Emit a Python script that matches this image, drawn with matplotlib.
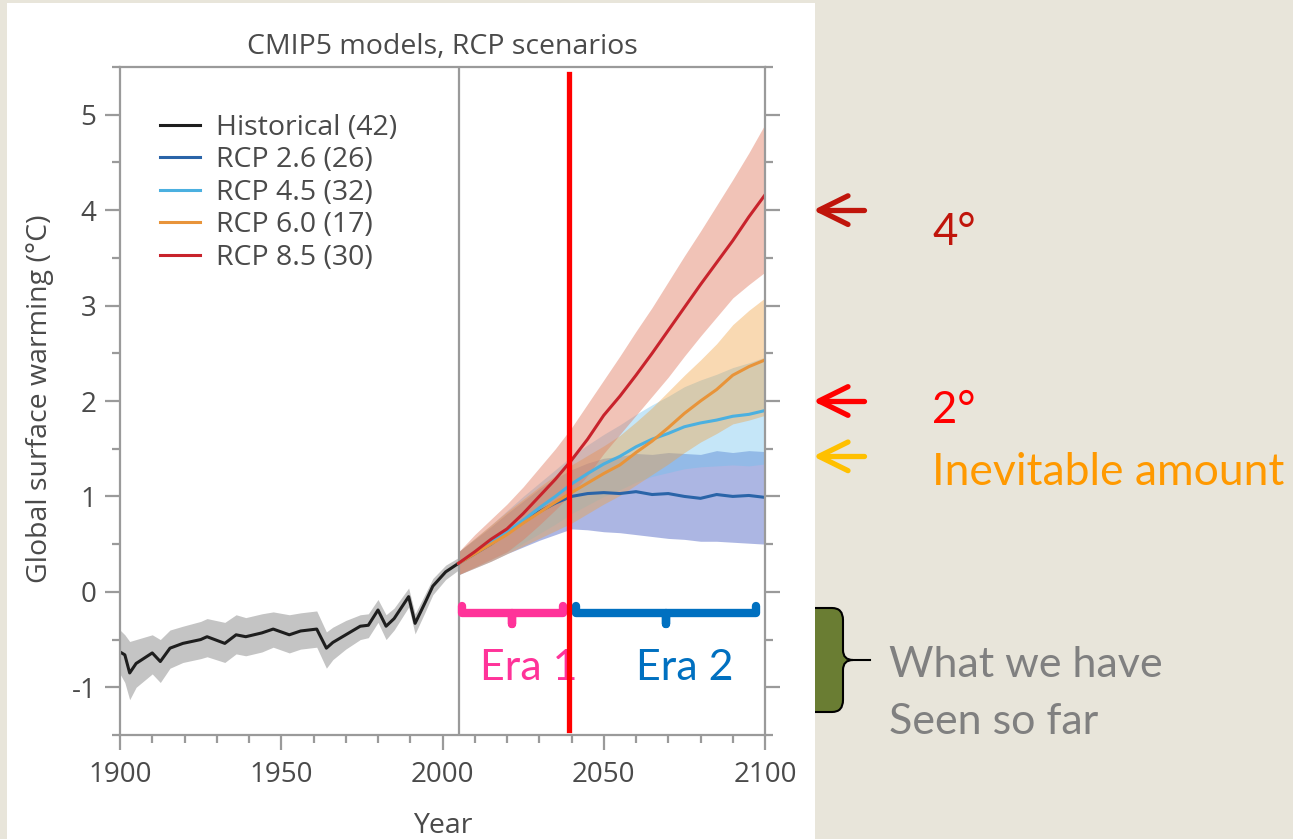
import numpy as np
import matplotlib
matplotlib.use("Agg")
import matplotlib.pyplot as plt
from matplotlib.patches import Rectangle, PathPatch
from matplotlib.path import Path
from matplotlib.ticker import MultipleLocator
import matplotlib.transforms as mtransforms

plt.rcParams["axes.unicode_minus"] = False

# ---- data ----
hist_years = [1900, 1901.5, 1903, 1905, 1910, 1912.5, 1915.5, 1919.5, 1925, 1927,
              1932.5, 1936, 1939, 1944, 1947.5, 1952.5, 1956, 1961, 1964, 1966,
              1970, 1974.5, 1977, 1980, 1982.5, 1985, 1989.5, 1991.5, 1994.5, 1997,
              2001, 2005]
hist_mean = [-0.63, -0.66, -0.85, -0.75, -0.64, -0.73, -0.59, -0.54, -0.50, -0.47,
             -0.54, -0.45, -0.47, -0.43, -0.39, -0.45, -0.41, -0.39, -0.59, -0.53,
             -0.45, -0.36, -0.35, -0.19, -0.36, -0.28, -0.05, -0.33, -0.12, 0.06,
             0.21, 0.30]
hist_hi = [-0.40, -0.45, -0.52, -0.50, -0.45, -0.50, -0.40, -0.36, -0.31, -0.28,
           -0.32, -0.24, -0.27, -0.23, -0.21, -0.24, -0.22, -0.20, -0.42, -0.37,
           -0.30, -0.24, -0.23, -0.08, -0.24, -0.17, 0.04, -0.23, -0.03, 0.14,
           0.28, 0.36]
hist_lo = [-0.86, -0.95, -1.13, -1.00, -0.86, -0.95, -0.80, -0.74, -0.70, -0.68,
           -0.74, -0.65, -0.67, -0.63, -0.58, -0.64, -0.60, -0.58, -0.80, -0.71,
           -0.60, -0.50, -0.48, -0.32, -0.50, -0.40, -0.16, -0.44, -0.22, -0.03,
           0.13, 0.23]

proj_years = [2005, 2010, 2015, 2020, 2025, 2030, 2035, 2040, 2045, 2050,
              2055, 2060, 2065, 2070, 2075, 2080, 2085, 2090, 2095, 2100]

rcp26_mean = [0.30, 0.40, 0.50, 0.62, 0.73, 0.84, 0.93, 1.00, 1.03, 1.04,
              1.03, 1.05, 1.02, 1.03, 1.00, 0.98, 1.02, 1.00, 1.01, 0.99]
rcp26_hi = [0.42, 0.55, 0.68, 0.82, 0.95, 1.08, 1.19, 1.28, 1.35, 1.40,
            1.42, 1.45, 1.44, 1.46, 1.45, 1.44, 1.48, 1.46, 1.48, 1.47]
rcp26_lo = [0.18, 0.25, 0.32, 0.40, 0.47, 0.54, 0.60, 0.66, 0.65, 0.63,
            0.62, 0.60, 0.58, 0.56, 0.55, 0.53, 0.53, 0.52, 0.51, 0.50]

rcp45_mean = [0.30, 0.41, 0.52, 0.63, 0.75, 0.88, 1.00, 1.13, 1.24, 1.34,
              1.42, 1.52, 1.60, 1.66, 1.73, 1.77, 1.80, 1.84, 1.86, 1.90]
rcp45_hi = [0.42, 0.56, 0.70, 0.85, 1.00, 1.14, 1.28, 1.42, 1.54, 1.65,
            1.75, 1.86, 1.96, 2.05, 2.15, 2.22, 2.28, 2.35, 2.40, 2.46]
rcp45_lo = [0.18, 0.26, 0.34, 0.42, 0.51, 0.61, 0.71, 0.82, 0.91, 1.00,
            1.07, 1.15, 1.21, 1.25, 1.29, 1.31, 1.32, 1.33, 1.32, 1.34]

rcp60_mean = [0.30, 0.40, 0.50, 0.60, 0.72, 0.83, 0.94, 1.04, 1.14, 1.24,
              1.33, 1.46, 1.58, 1.72, 1.87, 2.00, 2.12, 2.27, 2.36, 2.43]
rcp60_hi = [0.42, 0.56, 0.70, 0.84, 0.97, 1.10, 1.22, 1.33, 1.43, 1.53,
            1.64, 1.78, 1.93, 2.10, 2.27, 2.43, 2.60, 2.80, 2.95, 3.08]
rcp60_lo = [0.18, 0.25, 0.32, 0.40, 0.48, 0.56, 0.64, 0.72, 0.82, 0.92,
            1.01, 1.12, 1.23, 1.34, 1.46, 1.57, 1.66, 1.76, 1.80, 1.85]

rcp85_mean = [0.30, 0.42, 0.55, 0.66, 0.82, 1.00, 1.18, 1.38, 1.60, 1.85,
              2.05, 2.27, 2.50, 2.74, 2.98, 3.22, 3.45, 3.68, 3.93, 4.16]
rcp85_hi = [0.42, 0.60, 0.76, 0.92, 1.10, 1.30, 1.50, 1.72, 1.97, 2.22,
            2.47, 2.73, 2.98, 3.25, 3.52, 3.78, 4.05, 4.32, 4.60, 4.90]
rcp85_lo = [0.18, 0.26, 0.34, 0.42, 0.55, 0.70, 0.86, 1.03, 1.22, 1.45,
            1.65, 1.85, 2.05, 2.25, 2.47, 2.68, 2.88, 3.08, 3.22, 3.35]

legend_labels = ["Historical (42)", "RCP 2.6 (26)", "RCP 4.5 (32)",
                 "RCP 6.0 (17)", "RCP 8.5 (30)"]

split_year = 2039.3
era1 = (2005.9, 2021.7, 2037.4)   # left, notch, right
era2 = (2041.5, 2069.3, 2097.2)
arrow_levels = [4.0, 2.0, 1.42]
arrow_colors = ["#C0150B", "#FF0000", "#FFC000"]

# ---- figure ----
chart_font = "Open Sans"
slide_font = "Lato"
grey = "#9A9A9A"
txt = "#4A4A4A"

fig = plt.figure(figsize=(12.93, 8.39), dpi=100)
fig.patch.set_facecolor("#E8E5DA")

# background layer in pixel coords
bg = fig.add_axes([0, 0, 1, 1])
bg.set_xlim(0, 1293)
bg.set_ylim(839, 0)
bg.axis("off")

# green brace shape behind the white panel
verts = [(800, 608), (832, 608), (843, 608), (843, 620), (843, 650),
         (843, 660), (853, 660), (843, 660), (843, 670), (843, 700),
         (843, 712), (832, 712), (800, 712), (800, 608)]
codes = [Path.MOVETO, Path.LINETO, Path.CURVE3, Path.CURVE3, Path.LINETO,
         Path.CURVE3, Path.CURVE3, Path.CURVE3, Path.CURVE3, Path.LINETO,
         Path.CURVE3, Path.CURVE3, Path.LINETO, Path.CLOSEPOLY]
bg.add_patch(PathPatch(Path(verts, codes), facecolor="#6A7D33",
                       edgecolor="black", lw=1.5, zorder=1))
bg.plot([850, 870], [660, 660], color="black", lw=1.5, zorder=1)
bg.add_patch(Rectangle((7, 3), 808, 840, facecolor="white", edgecolor="none", zorder=2))

bg.text(889, 677, "What we have", fontsize=31, color="#808080",
        family=slide_font, va="baseline", ha="left")
bg.text(889, 734, "Seen so far", fontsize=31, color="#808080",
        family=slide_font, va="baseline", ha="left")
bg.text(932, 245, "4°", fontsize=31.5, color="#C0150B", family=slide_font, va="baseline")
bg.text(932, 423, "2°", fontsize=31.5, color="#FF0000", family=slide_font, va="baseline")
bg.text(932, 485, "Inevitable amount", fontsize=32, color="#FF9900",
        family=slide_font, va="baseline")

# main chart
ax = fig.add_axes([120 / 1293, 1 - 735 / 839, 645 / 1293, 668 / 839])
ax.set_facecolor("none")
ax.set_xlim(1900, 2100)
ax.set_ylim(-1.5, 5.5)

ax.fill_between(hist_years, hist_lo, hist_hi, color="#C4C4C4", lw=0)
ax.fill_between(proj_years, rcp26_lo, rcp26_hi, color="#5A6FC8", alpha=0.5, lw=0)
ax.fill_between(proj_years, rcp45_lo, rcp45_hi, color="#6EC1EE", alpha=0.4, lw=0)
ax.fill_between(proj_years, rcp60_lo, rcp60_hi, color="#F0A040", alpha=0.4, lw=0)
ax.fill_between(proj_years, rcp85_lo, rcp85_hi, color="#E07A60", alpha=0.45, lw=0)

ax.plot(hist_years, hist_mean, color="#1E1E1E", lw=2.2, label=legend_labels[0])
ax.plot(proj_years, rcp26_mean, color="#2A64A8", lw=2.2, label=legend_labels[1])
ax.plot(proj_years, rcp45_mean, color="#4BB0E0", lw=2.2, label=legend_labels[2])
ax.plot(proj_years, rcp60_mean, color="#E8943A", lw=2.2, label=legend_labels[3])
ax.plot(proj_years, rcp85_mean, color="#C8232C", lw=2.2, label=legend_labels[4])

ax.axvline(2005, color=grey, lw=1.6, zorder=1)

for s in ax.spines.values():
    s.set_color(grey)
    s.set_linewidth(1.6)

ax.set_xticks([1900, 1950, 2000, 2050, 2100])
ax.xaxis.set_minor_locator(MultipleLocator(10))
ax.set_yticks(range(-1, 6))
ax.yaxis.set_minor_locator(MultipleLocator(0.5))
ax.tick_params(which="both", direction="out", color=grey, width=1.6,
               labelcolor=txt, labelsize=20, right=True, top=False)
ax.tick_params(which="major", length=11)
ax.tick_params(which="minor", length=6)
ax.tick_params(axis="y", pad=6)
ax.tick_params(axis="x", pad=8)
for lab in ax.get_xticklabels() + ax.get_yticklabels():
    lab.set_family(chart_font)

ax.set_title("CMIP5 models, RCP scenarios", fontsize=20.5, color=txt,
             family=chart_font, pad=9)
ax.set_xlabel("Year", fontsize=20.5, color=txt, family=chart_font)
ax.set_ylabel("Global surface warming (°C)", fontsize=20.5, color=txt, family=chart_font)
ax.xaxis.set_label_coords(0.5, -0.115)
ax.yaxis.set_label_coords(-0.103, 0.504)

leg = ax.legend(loc="upper left", bbox_to_anchor=(0.062, 0.93), frameon=False,
                prop={"family": chart_font, "size": 20.5}, handlelength=1.4,
                handletextpad=0.55, labelspacing=0.16, borderpad=0, borderaxespad=0)
for t in leg.get_texts():
    t.set_color(txt)

# era braces and labels
for (x0, xc, x1), col in [(era1, "#FF3399"), (era2, "#0070C0")]:
    ax.plot([x0, x0, xc, xc, xc, x1, x1], [-0.15, -0.22, -0.22, -0.335, -0.22, -0.22, -0.15],
            color=col, lw=6, solid_capstyle="round", solid_joinstyle="round",
            clip_on=False, zorder=5)
ax.text(2026.8, -0.92, "Era 1", color="#FF3399", fontsize=31, family=slide_font,
        ha="center", va="baseline", zorder=5)
ax.text(2075.0, -0.92, "Era 2", color="#0070C0", fontsize=31, family=slide_font,
        ha="center", va="baseline", zorder=5)

ax.axvline(split_year, ymin=0.008, ymax=0.99, color="#FF0000", lw=3.8, zorder=6)

# arrows pointing at the right edge of the chart
trans = mtransforms.blended_transform_factory(bg.transData, ax.transData)
for lev, col in zip(arrow_levels, arrow_colors):
    kw = dict(color=col, lw=3.8, solid_capstyle="round", transform=trans, clip_on=False, zorder=7)
    bg.plot([819, 864], [lev, lev], **kw)
    bg.plot([848, 819, 848], [lev + 0.15, lev, lev - 0.15], solid_joinstyle="round", **kw)

fig.savefig("out.png", dpi=100)
